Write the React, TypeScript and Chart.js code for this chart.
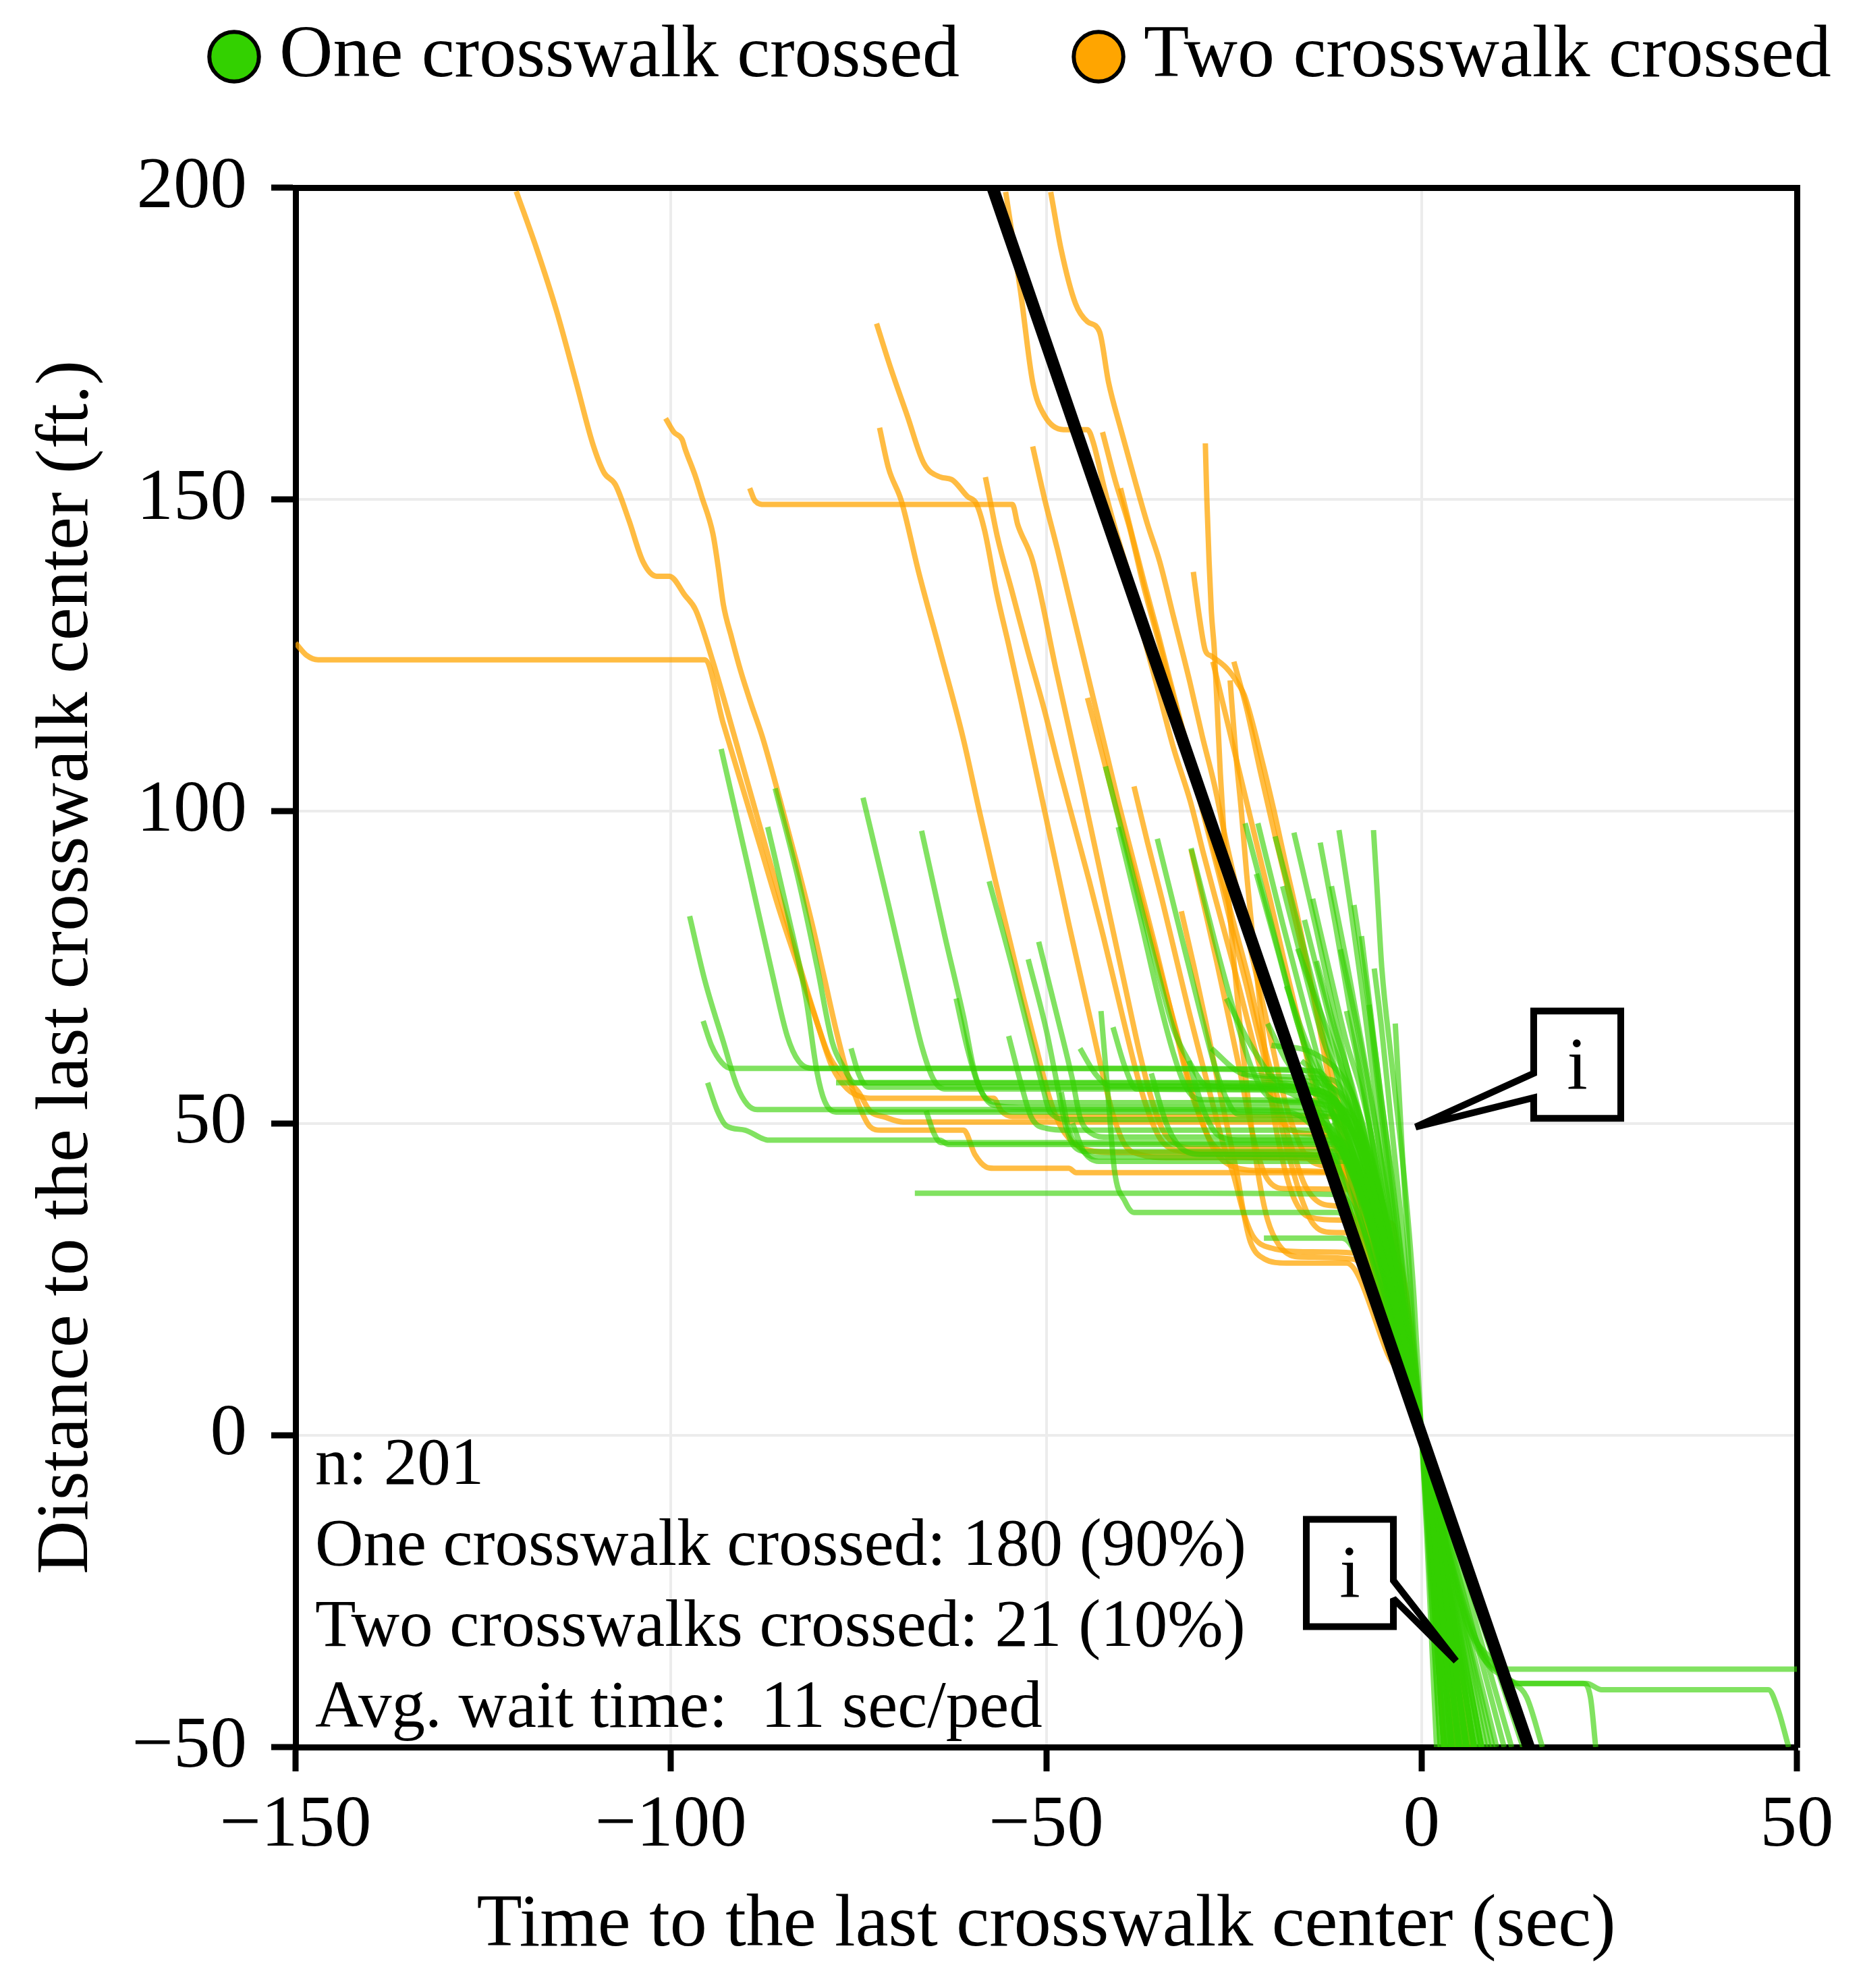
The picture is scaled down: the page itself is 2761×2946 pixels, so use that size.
import React, { useEffect, useRef } from 'react';
import { Chart, registerables } from 'chart.js';

Chart.register(...registerables);

const FONT = 'Liberation Serif';

// ---- axis ticks ----
const xTickValues = [-150, -100, -50, 0, 50];
const yTickValues = [-50, 0, 50, 100, 150, 200];

// ---- legend ----
const legendLabels = ['One crosswalk crossed', 'Two crosswalk crossed'];
const legendColors = ['#33d100', '#ffa500'];

// ---- summary text ----
const statsLines = [
  'n: 201',
  'One crosswalk crossed: 180 (90%)',
  'Two crosswalks crossed: 21 (10%)',
  'Avg. wait time:  11 sec/ped',
];

// ---- average crossing speed reference line (time, distance) ----
const avgLineT = [-57.14, 14.29];
const avgLineD = [200, -50];

// ---- One crosswalk crossed trajectories [time s, distance ft] ----
const g01 = [[-93.3,110],[-89.5,90],[-86.5,74],[-84.5,64],[-83,60],[-81,58.8],[-40,58.8],[-16,58.6],[-9,42],[0,0],[4.5,-50]];
const g02 = [[-95.7,66.4],[-94.6,62.5],[-93.2,59.7],[-92,58.8],[-50,58.8],[-14,58.4],[-7,36],[0,0],[6,-50]];
const g03 = [[-95.1,56.5],[-93.8,52],[-92.6,49.6],[-90.1,48.9],[-87.9,47.6],[-87,47.3],[-64.2,47.3],[-63,46.6],[-12,46.6],[-6,30],[0,0],[3.5,-50]];
const g04 = [[-97.5,83.2],[-95.5,73],[-93,63],[-91.2,56],[-89.8,53],[-88.5,52.2],[-30,52.2],[-12,51.5],[-6,32],[0,0],[5.5,-50]];
const g05 = [[-86.1,103.7],[-83,89],[-80.5,75],[-78.5,63],[-77,59],[-75.5,56.5],[-20,56.5],[-11,50],[0,0],[4,-50]];
const g06 = [[-87.1,97.5],[-84.5,84],[-82,70],[-80.5,58],[-79.5,53.5],[-78,51.8],[-18,51.8],[0,0],[7,-50]];
const g07 = [[-74.4,102.2],[-71,85],[-68.5,72],[-66.5,62],[-65,57],[-63.5,55.5],[-20,55.5],[0,0],[5,-50]];
const g08 = [[-66.6,96.9],[-63.5,80],[-61,67],[-59.5,58],[-58,54],[-56,53.3],[-14,53.3],[0,0],[8,-50]];
const g09 = [[-57.6,88.8],[-54.5,75],[-52,63],[-50.5,56],[-49.5,51.8],[-47,50.6],[-15,50.6],[0,0],[4,-50]];
const g10 = [[-51,79.1],[-48.5,67],[-46.5,57],[-45.5,51],[-44,48.4],[-42,47.8],[-12,47.8],[0,0],[6.5,-50]];
const g11 = [[-52.4,76.3],[-50,65],[-48.5,56],[-47.5,50],[-46.2,46.2],[-44.5,45.5],[-10,45.5],[0,0],[9,-50]];
const g12 = [[-42.1,107.2],[-38.5,90],[-35.5,76],[-33,65],[-31,60],[-28.5,56],[-15,55],[0,0],[3,-50]];
const g13 = [[-40.4,97.5],[-37.5,83],[-35,70],[-33,61],[-31.5,56],[-29.5,53.8],[-12,53.5],[0,0],[5,-50]];
const g14 = [[-35.2,95.6],[-32,80],[-29.5,68],[-27.5,59],[-26,54],[-24.5,51.5],[-11,51],[0,0],[7.5,-50]];
const g15 = [[-30.7,94.1],[-27.5,79],[-25,68],[-23,60],[-21,55],[-18.5,53.5],[-10,52],[0,0],[4,-50]];
const g16 = [[-23.5,98.1],[-20,82],[-16.5,66],[-13,52],[-9,34],[-4,16],[0,0],[6,-50]];
const g17 = [[-21.8,98.1],[-18.5,82],[-15,66],[-11.5,50],[-7.5,32],[-3.5,15],[0,0],[3.5,-50]];
const g18 = [[-17,96.6],[-14,81],[-11.5,67],[-9,54],[-6,37],[-3,18],[0,0],[5,-50]];
const g19 = [[-6.4,97],[-5.8,85],[-5.3,75],[-4,60],[-2.2,40],[-1,22],[0,0],[2.5,-50]];
const g20 = [[-10.8,77.9],[-8.5,65],[-6.5,52],[-4.5,38],[-2.5,22],[0,0],[4,-50]];
const g21 = [[-6.3,74.8],[-5.3,65],[-4.2,52],[-3,38],[-1.5,20],[0,0],[3,-50]];
const g22 = [[-15.6,82.6],[-12.5,68],[-10,56],[-7.5,44],[-4.5,28],[-2,12],[0,0],[5.5,-50]];
const g23 = [[-67.5,38.8],[-30,38.8],[-11,38.6],[-5,22],[0,0],[4.5,-50]];
const g24 = [[-45.5,62],[-43.5,58],[-41.5,56],[-15,56],[0,0],[6,-50]];
const g25 = [[-41.1,65.4],[-39.5,59],[-38,55.5],[-14,55.2],[0,0],[3.5,-50]];
const g26 = [[-21,31.6],[-10.6,31.6],[-5,17],[0,0],[5,-50]];
const g27 = [[-42.7,68],[-41.8,55],[-40.9,42.4],[-39.5,37.5],[-38.3,35.7],[-11.2,35.7],[-5,18],[0,0],[4,-50]];
const g28 = [[-19.5,96],[-16.5,82],[-13.5,68],[-10.5,54],[-7.5,40],[-4,20],[0,0],[7,-50]];
const g29 = [[-13.5,95],[-11.5,82],[-9.5,68],[-7.5,54],[-5,36],[-2.5,18],[0,0],[4.5,-50]];
const g30 = [[-12,88],[-10,76],[-8,63],[-6,49],[-4,33],[-2,16],[0,0],[3.5,-50]];
const g31 = [[-9,85],[-7.5,73],[-6,60],[-4.5,46],[-3,31],[-1.5,15],[0,0],[6,-50]];
const g32 = [[-8,80],[-6.8,68],[-5.5,55],[-4,42],[-2.5,27],[0,0],[2.5,-50]];
const g33 = [[-14,76],[-11.5,65],[-9,55],[-7,45],[-4.5,30],[-2,14],[0,0],[8,-50]];
const g34 = [[-18,72],[-15,62],[-12,55],[-9,48],[-6,36],[-3,19],[0,0],[5,-50]];
const g35 = [[-20.5,66],[-18,60],[-15.5,56.5],[-12,54],[-8,45],[-4,25],[0,0],[9.5,-50]];
const g36 = [[-16,60],[-13,57],[-10,53],[-7,45],[-4,28],[0,0],[6,-50]];
const g37 = [[-26,70],[-22.5,62],[-19.5,57],[-16,55.5],[-11,52],[-6,37],[0,0],[4,-50]];
const g38 = [[-24,58],[-20,57.5],[-12,57],[-7,43],[0,0],[7.5,-50]];
const g39 = [[-3.5,66],[-3,55],[-2.5,44],[-1.8,30],[-1,15],[0,0],[2,-50]];
const g40 = [[-11,97],[-9.5,85],[-8,72],[-6.5,58],[-4.5,40],[-2.2,20],[0,0],[5,-50]];
const g41 = [[-12,50],[-5,32],[0,0],[6,-30],[9,-35.5],[11.7,-37.5],[50,-37.5]];
const g42 = [[-14,52],[-6,33],[0,0],[7,-32],[10.5,-38],[12.6,-39.8],[22,-39.8],[24,-40.8],[46.2,-40.8],[47.5,-44],[48.9,-50]];
const g43 = [[-9,44],[0,0],[7,-33],[11,-38.5],[13,-39.8],[21.5,-39.8],[22.5,-42],[23.2,-50]];
const g44 = [[-10,46],[0,0],[8,-35],[12,-39.5],[14,-42],[16.1,-50]];
const g45 = [[-78,56.5],[-30,56.5],[-13,55],[0,0],[5,-50]];
const g46 = [[-76,62],[-75,58],[-73.7,55.8],[-18,55.8],[0,0],[6,-50]];
const g47 = [[-62,70],[-60.5,62],[-59,56],[-57,52.9],[-52,52.5],[-15,52.5],[0,0],[3,-50]];
const g48 = [[-55,64],[-53.5,57],[-52,51],[-50,49.2],[-47,48.9],[-13,48.9],[0,0],[8.5,-50]];
const g49 = [[-48,55],[-47,49],[-45.5,46],[-43.5,44.6],[-10,44.6],[0,0],[4,-50]];
const g50 = [[-46.5,50],[-45,45.5],[-43,43.9],[-10,43.9],[0,0],[11,-50]];
const g51 = [[-36,58],[-34,50],[-32,46],[-29,45],[-11,44.8],[0,0],[12,-50]];
const g52 = [[-31,60],[-29,52],[-27,48],[-24,47.3],[-11,47.3],[0,0],[13.5,-50]];
const g53 = [[-66,52],[-65,48.5],[-64,46.9],[-12,46.9],[0,0],[7,-50]];
const g54 = [[-22,90],[-19,77],[-16.5,66],[-14,58],[-11,52],[-6,35],[0,0],[6.5,-50]];
const g55 = [[-18.5,88],[-15.5,74],[-13,63],[-10.5,56],[-7.5,46],[-4,25],[0,0],[8,-50]];
const g56 = [[-14.5,86],[-12,73],[-10,63],[-8,55],[-5.5,41],[-2.5,20],[0,0],[4,-50]];
const g57 = [[-28,62],[-24,58],[-18,57],[-11,55],[-6,38],[0,0],[10,-50]];
const g58 = [[-20,62.5],[-14,61],[-9,54],[-5,36],[0,0],[5.5,-50]];
const g59 = [[-7,69],[-6,58],[-4.8,46],[-3.3,32],[-1.6,16],[0,0],[3,-50]];
const g60 = [[-10,68],[-8.5,60],[-7,50],[-5,36],[-2.5,18],[0,0],[7,-50]];
const g61 = [[-16.5,78],[-13.5,68],[-11,60],[-8.5,52],[-5.5,38],[-2.5,18],[0,0],[6,-50]];

// ---- Two crosswalks crossed trajectories [time s, distance ft] ----
const o01 = [[-120.6,199.4],[-117.8,189.9],[-115.2,180.1],[-112.6,168.7],[-110.4,158.9],[-108.9,154.3],[-107.4,152.4],[-105.6,146.7],[-103.7,140],[-101.9,137.7],[-100.2,137.7],[-98.1,134.6],[-96.7,132.3],[-94.4,124],[-91.5,111.9],[-88,97],[-84,80],[-81,68],[-79,61],[-77,57.5],[-75,55],[-73.5,52],[-71.5,51],[-69,50.2],[-14,50.2],[-7,30],[0,0],[5,-50]];
const o02 = [[-150,127],[-148.5,125],[-147,124.3],[-95.5,124.3],[-93,114],[-90.5,104],[-88,94],[-85.5,84],[-83,75],[-80.5,66],[-78.5,59],[-76.5,55.5],[-74.5,54.2],[-73,54],[-57,54],[-56,52],[-54.5,51.1],[-12,51.1],[-6,30],[0,0],[6,-50]];
const o03 = [[-100.7,163],[-99.6,160.8],[-98.5,159.6],[-98.1,158.1],[-96.7,153.6],[-95.9,150.5],[-94.4,144.5],[-93.7,139.2],[-93,133.1],[-91.9,127.8],[-90.7,122.5],[-89.3,117.2],[-87.8,111.9],[-85.5,102],[-83.3,92],[-81.2,82],[-79.5,73],[-78,65],[-76.5,58],[-75,53],[-73.5,49.5],[-72,48.9],[-61,48.9],[-59.5,45],[-58,43],[-57,42.8],[-47,42.8],[-46,42.1],[-11,42.1],[-5,22],[0,0],[4,-50]];
const o04 = [[-89.5,151.8],[-88.8,149.8],[-87.5,149.2],[-54.5,149.2],[-53.8,146],[-51.8,140.1],[-48.6,122.2],[-45.3,104.3],[-42.1,86.4],[-39.5,72],[-37.5,61],[-36,54],[-34.5,49],[-32.5,46.5],[-30,46],[-12,46],[-6,27],[0,0],[5,-50]];
const o05 = [[-58.1,153.6],[-57.5,150],[-56.5,144],[-54.5,135],[-52.4,125.5],[-50.3,116.5],[-48.3,107],[-46.3,98],[-44.3,89],[-42.4,80],[-40.6,71],[-39,63],[-37.5,56],[-36,50.5],[-34.5,47],[-32,45.5],[-28,45.2],[-13,45],[-6,27],[0,0],[4.5,-50]];
const o06 = [[-72.6,178.2],[-70.7,171],[-68.5,163.4],[-66.3,155.8],[-64.1,153.6],[-62.6,153.2],[-60.5,150.5],[-59.3,149.3],[-58.2,145],[-56.6,135],[-55,126.7],[-53.4,118],[-51.8,109],[-50.2,100],[-48.6,91],[-47,82],[-45.5,74],[-44,66],[-42.5,58],[-41,51],[-39.5,46.5],[-37.5,45],[-34,44.5],[-14,44.5],[-7,28],[0,0],[7,-50]];
const o07 = [[-72.2,161.5],[-71,155],[-69.3,149.8],[-67,138.4],[-64.1,125.5],[-61.1,111.9],[-58.9,100],[-56.8,89],[-54.8,79],[-53,70],[-51.3,62],[-49.8,55],[-48.3,50],[-46.5,47],[-44,45.6],[-40,45.3],[-20,45.3],[-10,43],[-4.5,22],[0,0],[4,-50]];
const o08 = [[-55.4,199.3],[-53.4,183.2],[-51.8,168.8],[-50.2,163.4],[-47.7,161.2],[-44.5,161.2],[-43.7,159],[-42.3,152],[-40.5,144],[-38.9,137.5],[-37,128],[-34.9,118.6],[-33,110],[-30.8,101.6],[-29,93],[-27,84],[-25.2,76],[-23.5,68],[-22,61],[-20.5,55],[-19,51],[-17.5,49],[-15,48.3],[-10,46.5],[-5,25],[0,0],[5,-50]];
const o09 = [[-49.4,199.3],[-48,190],[-46.1,181.4],[-44.5,178.5],[-42.9,176.9],[-41.7,168.8],[-40,161],[-38.1,152.7],[-36.5,146],[-34.9,140.1],[-33,131],[-30.8,120.4],[-29.2,112],[-27.6,104.3],[-26,95],[-24.4,86.4],[-22.8,78],[-21.3,70],[-19.8,62],[-18.5,55],[-17,49],[-15.5,45],[-13.5,43.3],[-10,42],[-4.5,21],[0,0],[6,-50]];
const o10 = [[-42.5,160.8],[-40.8,153],[-38.9,145.5],[-37,136],[-34.9,126.7],[-33,118],[-30.8,108.8],[-29,100],[-27,91],[-25,82],[-23,73],[-21.5,65],[-20,58],[-18.5,51],[-17,45],[-15.5,40],[-13,37],[-10,36.2],[-4.5,19],[0,0],[4,-50]];
const o11 = [[-51.8,158.5],[-50.2,150],[-48.5,142],[-46.9,134],[-45.3,126],[-43.7,118],[-42.1,110],[-40.5,102],[-38.8,94],[-37.1,86],[-35.4,78],[-33.8,70],[-32.2,62],[-30.7,55],[-29.2,50],[-27.5,45.5],[-25,43],[-21,42.4],[-9,42],[-4,20],[0,0],[5.5,-50]];
const o12 = [[-28.8,159],[-28.6,150],[-28.3,140],[-28,132],[-27.6,125.8],[-27.2,116],[-26.8,106],[-26.3,96],[-25.7,86],[-25,76],[-24.2,66],[-23.3,56],[-22.5,48],[-21.5,40],[-20.5,34.5],[-19,30.5],[-16.5,28.6],[-9,28.2],[-4,14],[0,0],[3,-50]];
const o13 = [[-30.4,138.4],[-29.6,131.2],[-28.8,125.8],[-28,124.9],[-26,123],[-24.4,120.4],[-23.6,118.6],[-21.2,107.9],[-19.6,99.8],[-18,91],[-16.3,81.9],[-15,74],[-13.7,66],[-12.5,58],[-11.4,51],[-10.3,45],[-9.2,39],[-8.2,34],[-7,30.5],[-5,28.5],[-3.5,26],[0,0],[4.5,-50]];
const o14 = [[-44.5,118.2],[-42.5,109],[-40.5,99.8],[-38.5,91],[-36.5,82],[-34.5,73],[-32.7,65],[-31,57],[-29.5,51],[-28,47],[-26,45],[-22,44.5],[-12,44],[-5,22],[0,0],[6,-50]];
const o15 = [[-40.1,151.8],[-38.5,144],[-36.8,136],[-35,128],[-33.3,120],[-31.6,112],[-30,104],[-28.3,96],[-26.6,88],[-25,80],[-23.3,72],[-21.7,64],[-20.2,57],[-18.8,50],[-17.5,44],[-16,38],[-14.5,34],[-12,32.5],[-6,32],[-3,16],[0,0],[5,-50]];
const o16 = [[-25.5,121],[-24.8,110],[-24,100],[-23.3,90],[-22.5,80],[-21.6,70],[-20.7,60],[-19.8,52],[-18.5,44],[-17,38],[-15,35],[-11,34.5],[-4,34],[-2,17],[0,0],[4,-50]];
const o17 = [[-30.7,93.9],[-29,85],[-27.3,76],[-25.7,67],[-24.3,59],[-23,51],[-21.8,45],[-20.5,41],[-18,39.5],[-8,39.3],[-4,20],[0,0],[6.5,-50]];
const o18 = [[-32,84],[-30.3,75],[-28.7,66],[-27.2,57],[-25.8,49],[-24.6,42],[-23.6,35],[-22.8,31],[-21,28.3],[-18,27.6],[-10,27.6],[-4.5,13],[0,0],[4,-50]];
const o19 = [[-38.3,104],[-36.5,95],[-34.6,86],[-32.8,77],[-31,68],[-29.3,60],[-27.8,53],[-26.5,47],[-25,41.5],[-23.8,36],[-22.5,32],[-20,30],[-15,29.4],[-9,29.2],[-4,14],[0,0],[3,-50]];
const o20 = [[-25,124],[-23.3,116.5],[-21.4,106],[-19.5,96],[-17.5,86],[-15.5,76],[-13.5,66],[-11.8,57],[-10,48],[-8.5,40],[-7,33],[-5.5,28.5],[-3,27.5],[0,0],[4,-50]];
const o21 = [[-27.8,124],[-26.3,116.5],[-24.2,106],[-22.2,96],[-20.2,86],[-18.3,76],[-16.5,67],[-14.8,58],[-13.3,50],[-12,44],[-10.5,40],[-8,38.5],[-4,19],[0,0],[5,-50]];

const oneCrosswalkTracks = [g01,g02,g03,g04,g05,g06,g07,g08,g09,g10,g11,g12,g13,g14,g15,g16,g17,g18,g19,g20,g21,g22,g23,g24,g25,g26,g27,g28,g29,g30,g31,g32,g33,g34,g35,g36,g37,g38,g39,g40,g41,g42,g43,g44,g45,g46,g47,g48,g49,g50,g51,g52,g53,g54,g55,g56,g57,g58,g59,g60,g61];
const twoCrosswalkTracks = [o01,o02,o03,o04,o05,o06,o07,o08,o09,o10,o11,o12,o13,o14,o15,o16,o17,o18,o19,o20,o21];

// ---- callout anchors in data units ----
const calloutUpper = { left: 14.94, right: 26.54, top: 68.0, bottom: 50.8, baseTop: 58.0, baseBottom: 54.1, tipT: -0.79, tipD: 49.4, side: 'left' };
const calloutLower = { left: -15.35, right: -3.75, top: -13.5, bottom: -30.7, baseTop: -23.3, baseBottom: -26.2, tipT: 4.6, tipD: -36.2, side: 'right' };
const statsAnchor = { t: -147.4, d: -7.8 };

const minusFmt = (v: number | string) => String(v).replace('-', '\u2212');

export default function App() {
  const ref = useRef<HTMLCanvasElement>(null);

  useEffect(() => {
    const canvas = ref.current;
    if (!canvas) return;

    const toXY = (tr: number[][]) => tr.map(([t, d]) => ({ x: t, y: d }));

    const datasets: any[] = [
      {
        label: 'Average',
        data: avgLineT.map((t, i) => ({ x: t, y: avgLineD[i] })),
        borderColor: '#000000',
        borderWidth: 18,
        pointRadius: 0,
        borderCapStyle: 'butt',
        order: 0,
      },
      ...oneCrosswalkTracks.map((tr) => ({
        label: legendLabels[0],
        data: toXY(tr),
        borderColor: 'rgba(51,209,0,0.62)',
        borderWidth: 8,
        pointRadius: 0,
        cubicInterpolationMode: 'monotone',
        order: 1,
      })),
      ...twoCrosswalkTracks.map((tr) => ({
        label: legendLabels[1],
        data: toXY(tr),
        borderColor: 'rgba(255,165,0,0.74)',
        borderWidth: 8,
        pointRadius: 0,
        cubicInterpolationMode: 'monotone',
        order: 2,
      })),
    ];

    const layoutFix = {
      id: 'layoutFix',
      afterLayout(chart: any) {
        const lg = chart.legend;
        if (lg) {
          const w = lg.right - lg.left;
          lg.left = 306;
          lg.right = 306 + w;
        }
      },
    };

    const drawCallout = (ctx: CanvasRenderingContext2D, xs: any, ys: any, c: any) => {
      const L = xs.getPixelForValue(c.left);
      const R = xs.getPixelForValue(c.right);
      const T = ys.getPixelForValue(c.top);
      const B = ys.getPixelForValue(c.bottom);
      const b1 = ys.getPixelForValue(c.baseTop);
      const b2 = ys.getPixelForValue(c.baseBottom);
      const tx = xs.getPixelForValue(c.tipT);
      const ty = ys.getPixelForValue(c.tipD);
      ctx.beginPath();
      if (c.side === 'left') {
        ctx.moveTo(L, b1); ctx.lineTo(L, T); ctx.lineTo(R, T); ctx.lineTo(R, B);
        ctx.lineTo(L, B); ctx.lineTo(L, b2); ctx.lineTo(tx, ty);
      } else {
        ctx.moveTo(R, b1); ctx.lineTo(R, T); ctx.lineTo(L, T); ctx.lineTo(L, B);
        ctx.lineTo(R, B); ctx.lineTo(R, b2); ctx.lineTo(tx, ty);
      }
      ctx.closePath();
      ctx.fillStyle = '#ffffff';
      ctx.fill();
      ctx.lineWidth = 10;
      ctx.strokeStyle = '#000000';
      ctx.lineJoin = 'miter';
      ctx.miterLimit = 2;
      ctx.stroke();
      ctx.fillStyle = '#000000';
      ctx.font = `110px "${FONT}"`;
      ctx.textAlign = 'center';
      ctx.textBaseline = 'alphabetic';
      ctx.fillText('i', (L + R) / 2, (T + B) / 2 + 35);
    };

    const annotations = {
      id: 'annotations',
      afterDraw(chart: any) {
        const { ctx } = chart;
        const xs = chart.scales.x;
        const ys = chart.scales.y;
        ctx.save();
        ctx.fillStyle = '#000000';
        ctx.font = `99px "${FONT}"`;
        ctx.textAlign = 'left';
        ctx.textBaseline = 'alphabetic';
        const sx = xs.getPixelForValue(statsAnchor.t);
        const sy = ys.getPixelForValue(statsAnchor.d);
        statsLines.forEach((s, i) => ctx.fillText(s, sx, sy + i * 120));
        drawCallout(ctx, xs, ys, calloutUpper);
        drawCallout(ctx, xs, ys, calloutLower);
        ctx.restore();
      },
    };

    const tickFont = { family: FONT, size: 109 };
    const titleFont = { family: FONT, size: 110 };
    const gridStyle = {
      color: '#ececec',
      lineWidth: 4,
      drawTicks: true,
      tickLength: 36,
      tickWidth: 9,
      tickColor: '#000000',
    };

    const chart = new Chart(canvas, {
      type: 'line',
      data: { datasets },
      options: {
        animation: false,
        responsive: false,
        devicePixelRatio: 1,
        events: [],
        layout: { padding: 0 },
        plugins: {
          tooltip: { enabled: false },
          legend: {
            display: true,
            position: 'top',
            align: 'start',
            labels: {
              usePointStyle: true,
              boxWidth: 24,
              boxHeight: 52,
              padding: 29,
              color: '#000000',
              font: { family: FONT, size: 110 },
              generateLabels: () =>
                legendLabels.map((text, i) => ({
                  text: text + '      ',
                  fillStyle: legendColors[i],
                  strokeStyle: '#000000',
                  lineWidth: 6,
                  pointStyle: 'circle',
                  hidden: false,
                  datasetIndex: i === 0 ? 1 : 1 + oneCrosswalkTracks.length,
                })),
            },
          },
        },
        scales: {
          x: {
            type: 'linear',
            position: 'bottom',
            min: -150,
            max: 50,
            afterFit: (s: any) => { s.height = 357; },
            afterBuildTicks: (s: any) => { s.ticks = xTickValues.map((v) => ({ value: v })); },
            ticks: { font: tickFont, color: '#000000', padding: 16, maxRotation: 0, callback: (v: any) => minusFmt(v) },
            grid: gridStyle,
            border: { display: true, color: '#000000', width: 9 },
            title: { display: true, text: 'Time to the last crosswalk center (sec)', font: titleFont, color: '#000000', padding: { top: 0, bottom: 26 } },
          },
          xTop: {
            type: 'linear',
            position: 'top',
            min: -150,
            max: 50,
            afterFit: (s: any) => { s.height = 129; },
            ticks: { display: false },
            grid: { display: false, drawTicks: false },
            border: { display: true, color: '#000000', width: 9 },
          },
          y: {
            type: 'linear',
            position: 'left',
            min: -50,
            max: 200,
            afterFit: (s: any) => { s.width = 438; },
            afterBuildTicks: (s: any) => { s.ticks = yTickValues.map((v) => ({ value: v })); },
            ticks: { font: tickFont, color: '#000000', padding: 36, callback: (v: any) => minusFmt(v) },
            grid: gridStyle,
            border: { display: true, color: '#000000', width: 9 },
            title: { display: true, text: 'Distance to the last crosswalk center (ft.)', font: titleFont, color: '#000000', padding: { top: 34, bottom: 0 } },
          },
          yRight: {
            type: 'linear',
            position: 'right',
            min: -50,
            max: 200,
            afterFit: (s: any) => { s.width = 98; },
            ticks: { display: false },
            grid: { display: false, drawTicks: false },
            border: { display: true, color: '#000000', width: 9 },
          },
        },
      } as any,
      plugins: [layoutFix, annotations],
    });

    return () => chart.destroy();
  }, []);

  return (
    <div style={{ position: 'absolute', left: 0, top: 0, width: 2761, height: 2946, background: '#ffffff' }}>
      <canvas ref={ref} width={2761} height={2946} style={{ display: 'block', width: 2761, height: 2946 }} />
    </div>
  );
}
